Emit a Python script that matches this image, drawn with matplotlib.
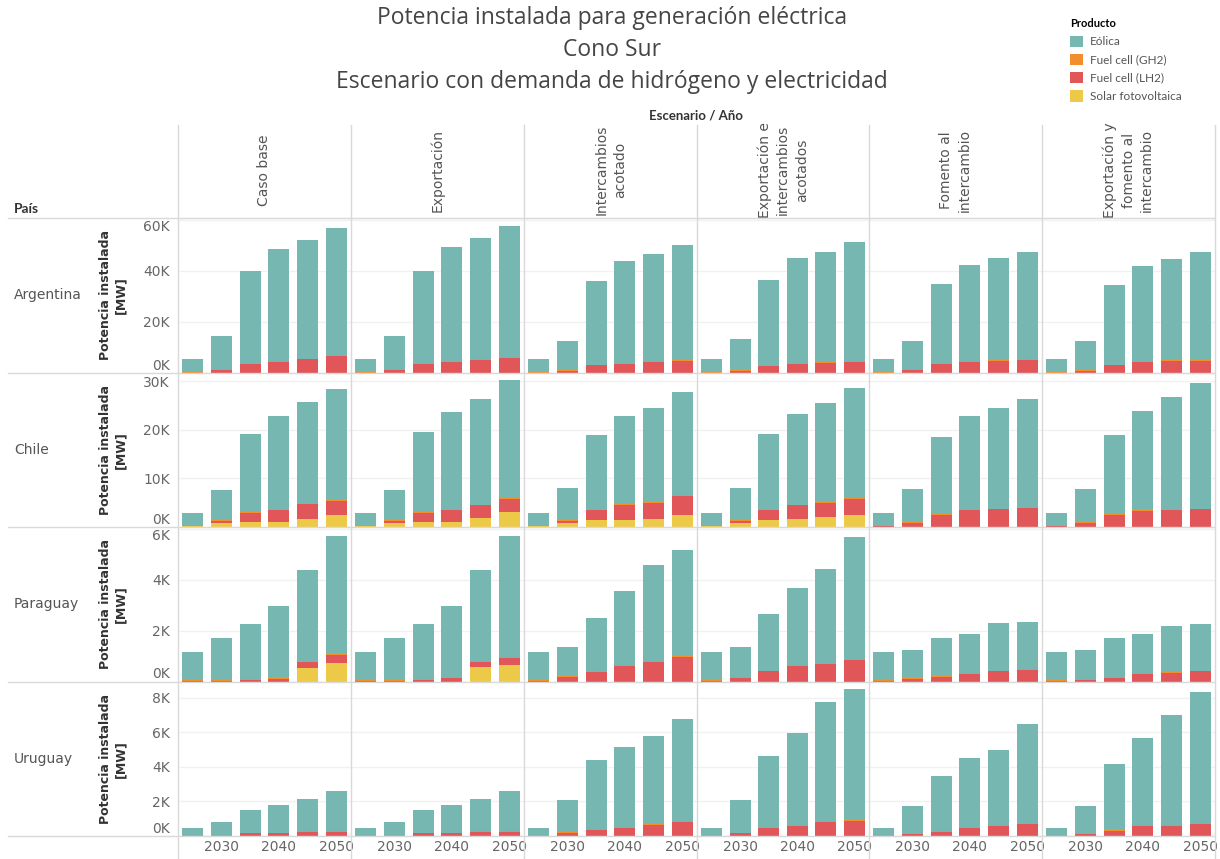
import numpy as np
import matplotlib.pyplot as plt
from matplotlib.lines import Line2D
from matplotlib.patches import Patch
from matplotlib.ticker import FuncFormatter

# Años y categorías
years = [2025, 2030, 2035, 2040, 2045, 2050]
escenarios = ["Caso base", "Exportación", "Intercambios\nacotado",
              "Exportación e\nintercambios\nacotados", "Fomento al\nintercambio",
              "Exportación y\nfomento al\nintercambio"]
paises = ["Argentina", "Chile", "Paraguay", "Uruguay"]
productos = ["Eólica", "Fuel cell (GH2)", "Fuel cell (LH2)", "Solar fotovoltaica"]
colores = ["#76b7b2", "#f28e2b", "#e15759", "#edc948"]

# Potencia instalada [MW] : una fila por escenario, una columna por año
eolica_arg = [[5100, 13200, 36400, 44200, 46600, 49800],
              [5100, 13200, 36400, 45000, 47600, 51700],
              [5100, 11700, 32900, 39900, 42000, 45100],
              [5100, 12200, 33500, 41300, 43100, 46600],
              [5100, 11300, 31100, 37800, 39800, 42100],
              [5100, 11500, 31100, 37400, 39700, 42300]]
gh2_arg = [[300, 300, 300, 300, 300, 300]] * 6
lh2_arg = [[0, 900, 3200, 4100, 5100, 6400],
           [0, 900, 3200, 4000, 4800, 5600],
           [0, 500, 2800, 3500, 4100, 4700],
           [0, 500, 2400, 3500, 3900, 4300],
           [0, 900, 3200, 4100, 4700, 4900],
           [0, 700, 2800, 4000, 4700, 4700]]
solar_arg = [[0, 0, 0, 0, 0, 0]] * 6

eolica_chl = [[2400, 6200, 16000, 19300, 20900, 22900],
              [2400, 6200, 16400, 20000, 21700, 24200],
              [2400, 6600, 15400, 18200, 19400, 21200],
              [2400, 6600, 15600, 18600, 20400, 22600],
              [2400, 6800, 15900, 19300, 20700, 22400],
              [2400, 6800, 16300, 20500, 23100, 25900]]
gh2_chl = [[150, 150, 150, 150, 150, 150]] * 6
lh2_chl = [[50, 450, 1950, 2450, 2950, 2950],
           [50, 450, 1950, 2450, 2550, 2850],
           [50, 450, 2050, 3150, 3350, 3950],
           [50, 450, 2050, 2850, 2850, 3350],
           [150, 750, 2450, 3350, 3550, 3750],
           [150, 750, 2450, 3150, 3350, 3550]]
solar_chl = [[200, 800, 1000, 1000, 1700, 2500],
             [200, 800, 1000, 1000, 1900, 3000],
             [200, 800, 1400, 1400, 1600, 2500],
             [200, 800, 1400, 1600, 2100, 2500],
             [100, 100, 100, 100, 100, 100],
             [100, 100, 100, 100, 100, 100]]

eolica_pry = [[1100, 1650, 2140, 2840, 3600, 4640],
              [1100, 1660, 2140, 2830, 3570, 4740],
              [1100, 1150, 2080, 2930, 3780, 4170],
              [1100, 1180, 2220, 3010, 3670, 4770],
              [1100, 1100, 1490, 1530, 1860, 1870],
              [1100, 1140, 1530, 1530, 1800, 1840]]
gh2_pry = [[30, 30, 30, 30, 30, 30]] * 6
lh2_pry = [[20, 20, 70, 110, 230, 310],
           [20, 20, 70, 120, 230, 290],
           [20, 170, 390, 600, 770, 960],
           [20, 140, 400, 620, 700, 860],
           [20, 110, 190, 300, 400, 450],
           [20, 70, 150, 300, 340, 400]]
solar_pry = [[0, 0, 0, 0, 520, 730],
             [0, 0, 0, 0, 550, 630],
             [0, 0, 0, 0, 0, 0],
             [0, 0, 0, 0, 0, 0],
             [0, 0, 0, 0, 0, 0],
             [0, 0, 0, 0, 0, 0]]

eolica_ury = [[400, 750, 1300, 1600, 1880, 2300],
              [400, 750, 1300, 1600, 1880, 2300],
              [400, 1850, 3950, 4590, 5110, 5910],
              [400, 1860, 4080, 5320, 6880, 7590],
              [400, 1570, 3200, 3970, 4350, 5700],
              [400, 1550, 3810, 5030, 6360, 7570]]
gh2_ury = [[50, 50, 50, 50, 50, 50]] * 6
lh2_ury = [[0, 0, 150, 150, 220, 250],
           [0, 0, 150, 150, 220, 250],
           [0, 200, 370, 490, 640, 820],
           [0, 150, 470, 600, 820, 870],
           [0, 100, 240, 470, 570, 720],
           [0, 120, 280, 570, 570, 720]]
solar_ury = [[0, 0, 0, 0, 0, 0]] * 6

# ejes por país
ytop = [60600, 31800, 6060, 8930]
yticks = [[0, 20000, 40000, 60000], [0, 10000, 20000, 30000],
          [0, 2000, 4000, 6000], [0, 2000, 4000, 6000, 8000]]

datos = {
    "Argentina": (eolica_arg, gh2_arg, lh2_arg, solar_arg),
    "Chile": (eolica_chl, gh2_chl, lh2_chl, solar_chl),
    "Paraguay": (eolica_pry, gh2_pry, lh2_pry, solar_pry),
    "Uruguay": (eolica_ury, gh2_ury, lh2_ury, solar_ury),
}

W, H = 1220, 859
col_x = [178, 351, 524, 697, 869, 1042, 1215]
row_y = [218, 372.5, 527, 681.5, 836]
gris = "#666666"


def caja(x0, y0, x1, y1):
    return [x0 / W, 1 - y1 / H, (x1 - x0) / W, (y1 - y0) / H]


fig = plt.figure(figsize=(W / 100, H / 100), dpi=100)
fmt = FuncFormatter(lambda v, p: f"{v / 1000:.0f}K")

for r, pais in enumerate(paises):
    eol, gh2, lh2, sol = datos[pais]
    for c in range(6):
        ax = fig.add_axes(caja(col_x[c], row_y[r], col_x[c + 1], row_y[r + 1]))
        ax.set_facecolor("none")
        base = np.zeros(len(years))
        # orden de apilado: solar abajo, eólica arriba
        for serie, color in [(sol, colores[3]), (lh2, colores[2]),
                             (gh2, colores[1]), (eol, colores[0])]:
            v = np.array(serie[c], dtype=float)
            ax.bar(years, v, 3.7, bottom=base, color=color, linewidth=0)
            base += v
        ax.set_xlim(2022.4, 2052.6)
        ax.set_ylim(0, ytop[r])
        ax.set_yticks(yticks[r])
        ax.yaxis.set_major_formatter(fmt)
        ax.grid(axis="y", color="#f1f1f1", lw=1)
        ax.set_axisbelow(True)
        for s in ax.spines.values():
            s.set_visible(False)
        ax.tick_params(axis="y", length=0, pad=6, labelsize=10, labelcolor=gris,
                       labelleft=(c == 0))
        if c == 0:
            ticks = ax.yaxis.get_major_ticks()
            ticks[0].label1.set_va("bottom")
            if ytop[r] - yticks[r][-1] < 0.05 * ytop[r]:
                ticks[-1].label1.set_va("top")
        if r == 3:
            ax.set_xticks([2030, 2040, 2050])
            ax.tick_params(axis="x", length=0, pad=3, labelsize=10, labelcolor=gris)
        else:
            ax.set_xticks([])

    ymid = 1 - (row_y[r] + row_y[r + 1]) / 2 / H
    fig.text(14 / W, ymid, pais, ha="left", va="center", fontsize=10, color="#555555")
    fig.text(113 / W, ymid, "Potencia instalada\n[MW]", rotation=90, ha="center",
             va="center", fontsize=9, fontweight="bold", color="#333333",
             multialignment="center")

# separadores
lc = "#d9d9d9"
for x in col_x:
    fig.add_artist(Line2D([x / W, x / W], [1 - 125 / H, 0], color=lc, lw=1))
for y in row_y:
    fig.add_artist(Line2D([8 / W, 1215 / W], [1 - y / H, 1 - y / H], color=lc, lw=1))

# encabezados de escenario
for c, esc in enumerate(escenarios):
    xm = (col_x[c] + col_x[c + 1]) / 2 / W
    fig.text(xm, 1 - 170 / H, esc, rotation=90, ha="center", va="center",
             fontsize=10, color="#555555", multialignment="center", linespacing=1.4)

fig.text(696 / W, 1 - 116 / H, "Escenario / Año", ha="center", va="center",
         fontsize=9.5, fontweight="bold", color="#333333", family="Lato")
fig.text(14 / W, 1 - 209 / H, "País", ha="left", va="center",
         fontsize=10, fontweight="bold", color="#333333", family="Lato")

# títulos
for y, t in [(18, "Potencia instalada para generación eléctrica"), (50, "Cono Sur"),
             (82, "Escenario con demanda de hidrógeno y electricidad")]:
    fig.text(612 / W, 1 - y / H, t, ha="center", va="center", fontsize=16.5,
             family="Open Sans", color="#454545")

# leyenda
handles = [Patch(facecolor=col, label=p) for p, col in zip(productos, colores)]
fig.legend(handles=handles, loc="upper left", bbox_to_anchor=(1062 / W, 1 - 10 / H),
           frameon=False, title="Producto", alignment="left", labelcolor="#555555",
           title_fontproperties={"family": "Lato", "weight": "bold", "size": 8},
           prop={"family": "Lato", "size": 8.5}, handlelength=1.1, handleheight=1.1,
           handletextpad=0.6, labelspacing=0.55, borderpad=0.2)

fig.savefig("out.png", dpi=100)
